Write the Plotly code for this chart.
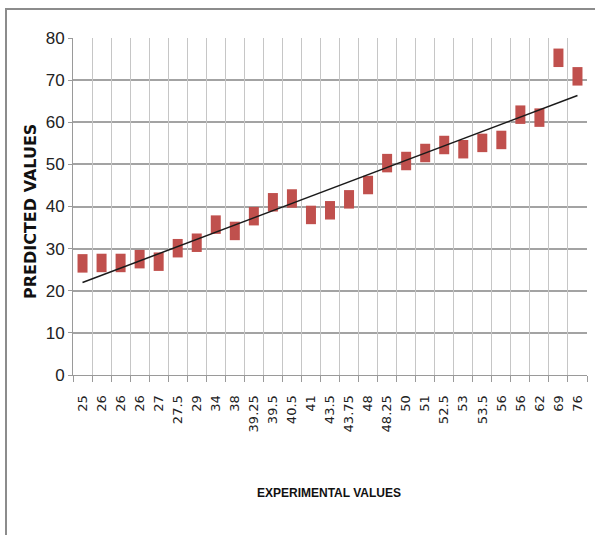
import numpy as np
import plotly.graph_objects as go

categories = ["25", "26", "26", "26", "27", "27.5", "29", "34", "38", "39.25", "39.5",
              "40.5", "41", "43.5", "43.75", "48", "48.25", "50", "51", "52.5", "53",
              "53.5", "56", "56", "62", "69", "76"]
predicted = [26.5, 26.6, 26.6, 27.5, 26.9, 30.1, 31.4, 35.7, 34.2, 37.7, 41.0,
             41.9, 38.0, 39.1, 41.7, 45.1, 50.3, 50.8, 52.7, 54.6, 53.6,
             55.1, 55.8, 61.8, 61.1, 75.3, 70.9]
y_ticks = [0, 10, 20, 30, 40, 50, 60, 70, 80]

idx = np.arange(len(categories))
slope, intercept = np.polyfit(idx, predicted, 1)
trend = slope * idx + intercept

fig = go.Figure()
fig.add_trace(go.Scatter(
    x=idx, y=predicted, mode="markers",
    marker=dict(symbol="line-ns", size=13.2, color="#c0504d",
                line=dict(color="#c0504d", width=10)),
    showlegend=False, hoverinfo="skip"))
fig.add_trace(go.Scatter(
    x=idx, y=trend, mode="lines", xaxis="x2",
    line=dict(color="#1a1a1a", width=1.5),
    showlegend=False, hoverinfo="skip"))

W, H = 595, 535
L, R, T, B = 73, 8, 38, 160
pw, ph = W - L - R, H - T - B

def px_x(x):
    return (x - L) / pw

def px_y(y):
    return (H - B - y) / ph

rng = [-0.5, len(categories) - 0.5]
fig.update_layout(
    width=W, height=H,
    margin=dict(l=L, r=R, t=T, b=B, autoexpand=False),
    paper_bgcolor="white", plot_bgcolor="white",
    xaxis=dict(range=rng, tickmode="array", tickvals=idx, ticktext=categories,
               tickangle=-90, showgrid=False, ticks="", zeroline=False,
               showline=True, linecolor="#9a9a9a", linewidth=1,
               tickfont=dict(family="DejaVu Sans", size=13, color="#222"),
               ticklabelstandoff=14, fixedrange=True),
    xaxis2=dict(range=rng, overlaying="x", side="bottom", anchor="y",
                tickmode="array", tickvals=list(np.arange(len(categories) + 1) - 0.5),
                showticklabels=False, showgrid=True, gridcolor="#c6c6c6", gridwidth=1,
                ticks="outside", ticklen=6, tickcolor="#9a9a9a", zeroline=False,
                showline=False),
    yaxis=dict(range=[0, 80], tickmode="array", tickvals=y_ticks,
               showgrid=True, gridcolor="#a3a3a3", gridwidth=1.5,
               ticks="outside", ticklen=4, tickcolor="#9a9a9a",
               showline=True, linecolor="#9a9a9a", zeroline=False,
               tickfont=dict(family="Liberation Sans, Arial, sans-serif",
                             size=17, color="#222")),
    annotations=[
        dict(text="PREDICTED VALUES", xref="paper", yref="paper",
             x=px_x(30), y=px_y(212), textangle=-90, showarrow=False,
             xanchor="center", yanchor="middle",
             font=dict(family="DejaVu Sans", size=16, color="#111", weight="bold")),
        dict(text="EXPERIMENTAL VALUES", xref="paper", yref="paper",
             x=px_x(329), y=px_y(493), showarrow=False,
             xanchor="center", yanchor="middle",
             font=dict(family="Liberation Sans, Arial, sans-serif",
                       size=12, color="#111", weight="bold")),
    ],
    shapes=[dict(type="rect", xref="paper", yref="paper",
                 x0=px_x(6), x1=px_x(600), y0=px_y(545), y1=px_y(9),
                 line=dict(color="#8c8c8c", width=2), layer="above")],
)

fig.write_html("out.html", config={"displayModeBar": False},
               post_script="document.body.style.margin='0';document.body.style.overflow='hidden';")
